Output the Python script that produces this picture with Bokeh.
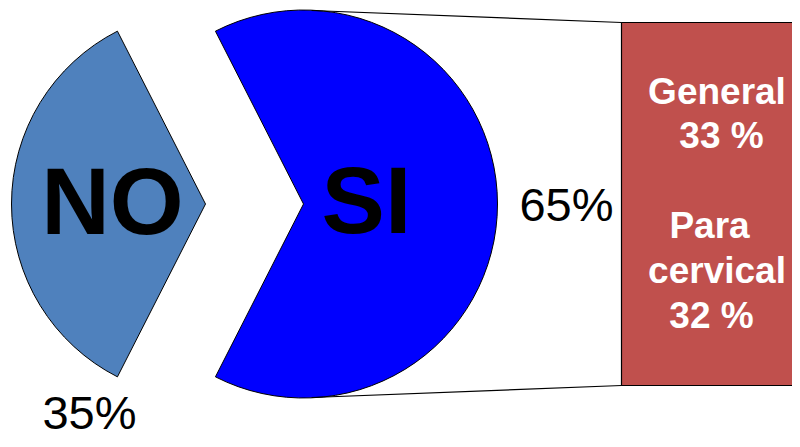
import math
from bokeh.plotting import figure
from bokeh.models import Range1d, ColumnDataSource
from bokeh.core.properties import value
from bokeh.embed import file_html
from bokeh.resources import INLINE

# ---- data ----
categories = ["NO", "SI"]
shares = [35, 65]                      # percent
share_labels = ["35%", "65%"]
pie_colors = ["#4F81BD", "#0000FF"]
breakdown_names = ["General", "Para cervical"]
breakdown_values = [33, 32]            # percent of total (sum = SI share)
bar_color = "#C0504D"

# ---- layout (screen-pixel space: x to the right, y = FH - screen_y) ----
FW, FH = 792, 439
p = figure(width=FW, height=FH, output_backend="svg", toolbar_location=None,
           x_range=Range1d(0, FW), y_range=Range1d(0, FH),
           x_axis_type=None, y_axis_type=None, min_border=0)
p.outline_line_color = None
p.grid.visible = False
p.background_fill_color = "white"
p.border_fill_color = "white"

def Y(sy):
    return FH - sy

R = 194
cy = Y(203.5)
centers_x = [205, 303]       # NO exploded to the left, SI on the right
mid_angles = [180.0, 0.0]    # NO points left, SI points toward bar

starts, ends = [], []
for s, mid in zip(shares, mid_angles):
    span = s / 100 * 360
    starts.append(math.radians(mid - span / 2))
    ends.append(math.radians(mid + span / 2))

src = ColumnDataSource(dict(x=centers_x, y=[cy, cy], start=starts, end=ends,
                            color=pie_colors, cat=categories))
p.wedge(x="x", y="y", radius=R, start_angle="start", end_angle="end",
        fill_color="color", line_color="black", line_width=1, source=src)

# category labels inside slices (cap centre positions)
p.text(x=[112, 366], y=[Y(200), Y(199)], text=categories,
       text_font=value("Liberation Sans"), text_font_style="bold",
       text_font_size="95px", text_color="black",
       text_align="center", text_baseline="middle")

# percent labels
p.text(x=[89, 566], y=[Y(412), Y(204)], text=share_labels,
       text_font=value("Liberation Sans"), text_font_size="47px",
       text_color="black", text_align="center", text_baseline="middle")

# ---- stacked bar of SI breakdown ----
bar_left, bar_right = 621, 830
bar_top = Y(22)
total = sum(breakdown_values)
scale = (Y(22) - Y(385)) / total
bar_bottom = bar_top - total * scale
p.quad(left=[bar_left], right=[bar_right], top=[bar_top], bottom=[bar_bottom],
       fill_color=bar_color, line_color="black", line_width=1.2)

# connector lines from SI slice to bar
si_cx = centers_x[1]
p.segment(x0=[si_cx + 8, si_cx + 8], y0=[cy + R - 0.5, cy - R + 0.5],
          x1=[bar_left, bar_left], y1=[bar_top, bar_bottom],
          line_color="black", line_width=1.2)

# bar labels
bar_lines = ["General", f"{breakdown_values[0]} %", "Para", "cervical", f"{breakdown_values[1]} %"]
bar_x = [716.5, 721, 709, 716.5, 711]
bar_y = [Y(91), Y(135), Y(225), Y(270), Y(315)]
p.text(x=bar_x, y=bar_y, text=bar_lines,
       text_font=value("Liberation Sans"), text_font_style="bold",
       text_font_size="37px", text_color="white",
       text_align="center", text_baseline="middle")

open("out.html", "w").write(file_html(p, INLINE))
